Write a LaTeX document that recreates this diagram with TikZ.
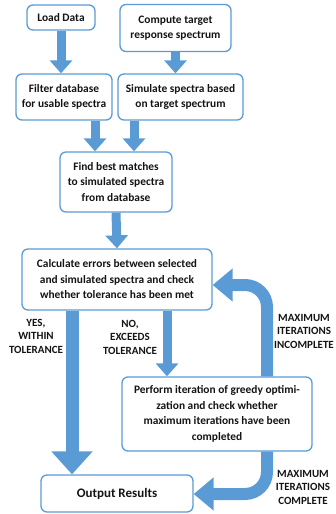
\documentclass[tikz,border=0pt]{standalone}
\usepackage{fontspec}
\setmainfont{Carlito}
\usetikzlibrary{arrows.meta}
\definecolor{boxblue}{RGB}{91,155,213}
\definecolor{arrblue}{RGB}{91,155,213}
\definecolor{txt}{RGB}{20,20,20}
\begin{document}
\begin{tikzpicture}[x=1pt,y=-1pt,
  box/.style={draw=boxblue, line width=1.3pt, rounded corners=6pt, fill=white, align=center, inner sep=0pt, font=\fontsize{11.4}{15.5}\selectfont\bfseries, text=txt},
  flow/.style={draw=arrblue, line width=9pt, -{Triangle[width=22pt,length=13pt]}},
  bigflow/.style={draw=arrblue, line width=13pt, -{Triangle[width=40pt,length=23pt]}},
  curved/.style={draw=arrblue, line width=12pt, rounded corners=22pt, -{Triangle[width=32pt,length=20pt]}},
  lbl/.style={align=center, inner sep=0pt, font=\fontsize{11}{13.5}\selectfont\bfseries, text=txt}]
\useasboundingbox (0,0) rectangle (335,514);

\node[box, minimum width=68pt, minimum height=25pt] (load) at (61,17.5) {Load Data};
\node[box, minimum width=111pt, minimum height=47pt] (compute) at (175.5,28) {Compute target\\response spectrum};
\node[box, minimum width=96pt, minimum height=46pt] (filter) at (64,97) {Filter database\\for usable spectra};
\node[box, minimum width=125pt, minimum height=46pt] (simulate) at (180.5,97) {Simulate spectra based\\on target spectrum};
\node[box, minimum width=112pt, minimum height=60pt] (find) at (116,182) {Find best matches\\to simulated spectra\\from database};
\node[box, minimum width=190pt, minimum height=61pt] (calc) at (117,279.5) {Calculate errors between selected\\and simulated spectra and check\\whether tolerance has been met};
\node[box, minimum width=190pt, minimum height=74pt] (perform) at (217,414) {Perform iteration of greedy optimi-\\zation and check whether\\maximum iterations have been\\completed};
\node[box, minimum width=152pt, minimum height=37pt, font=\fontsize{13}{16}\selectfont\bfseries] (output) at (117,493.5) {Output Results};

\coordinate (fx) at (95,0);
\coordinate (sx) at (134,0);
\coordinate (yx) at (72,0);
\coordinate (nx) at (167,0);
\coordinate (incturn) at (267,285);
\coordinate (cmpturn) at (267,494);

\draw[flow] (load.south) -- (load.south |- filter.north);
\draw[flow] (compute.south) -- (compute.south |- simulate.north);
\draw[flow] (filter.south -| fx) -- (find.north -| fx);
\draw[flow] (simulate.south -| sx) -- (find.north -| sx);
\draw[flow] (find.south) -- (calc.north);
\draw[bigflow] (calc.south -| yx) -- (output.north -| yx);
\draw[flow] (calc.south -| nx) -- (perform.north -| nx);
\draw[curved] (perform.north -| incturn) |- (calc.east |- incturn);
\draw[curved] (perform.south -| cmpturn) |- (output.east |- cmpturn);

\node[lbl] (yes) at (36,336) {YES,\\WITHIN\\TOLERANCE};
\node[lbl] (no) at (130,337) {NO,\\EXCEEDS\\TOLERANCE};
\node[lbl] (inc) at (304,331) {MAXIMUM\\ITERATIONS\\INCOMPLETE};
\node[lbl] (cmp) at (303,487) {MAXIMUM\\ITERATIONS\\COMPLETE};
\end{tikzpicture}
\end{document}
